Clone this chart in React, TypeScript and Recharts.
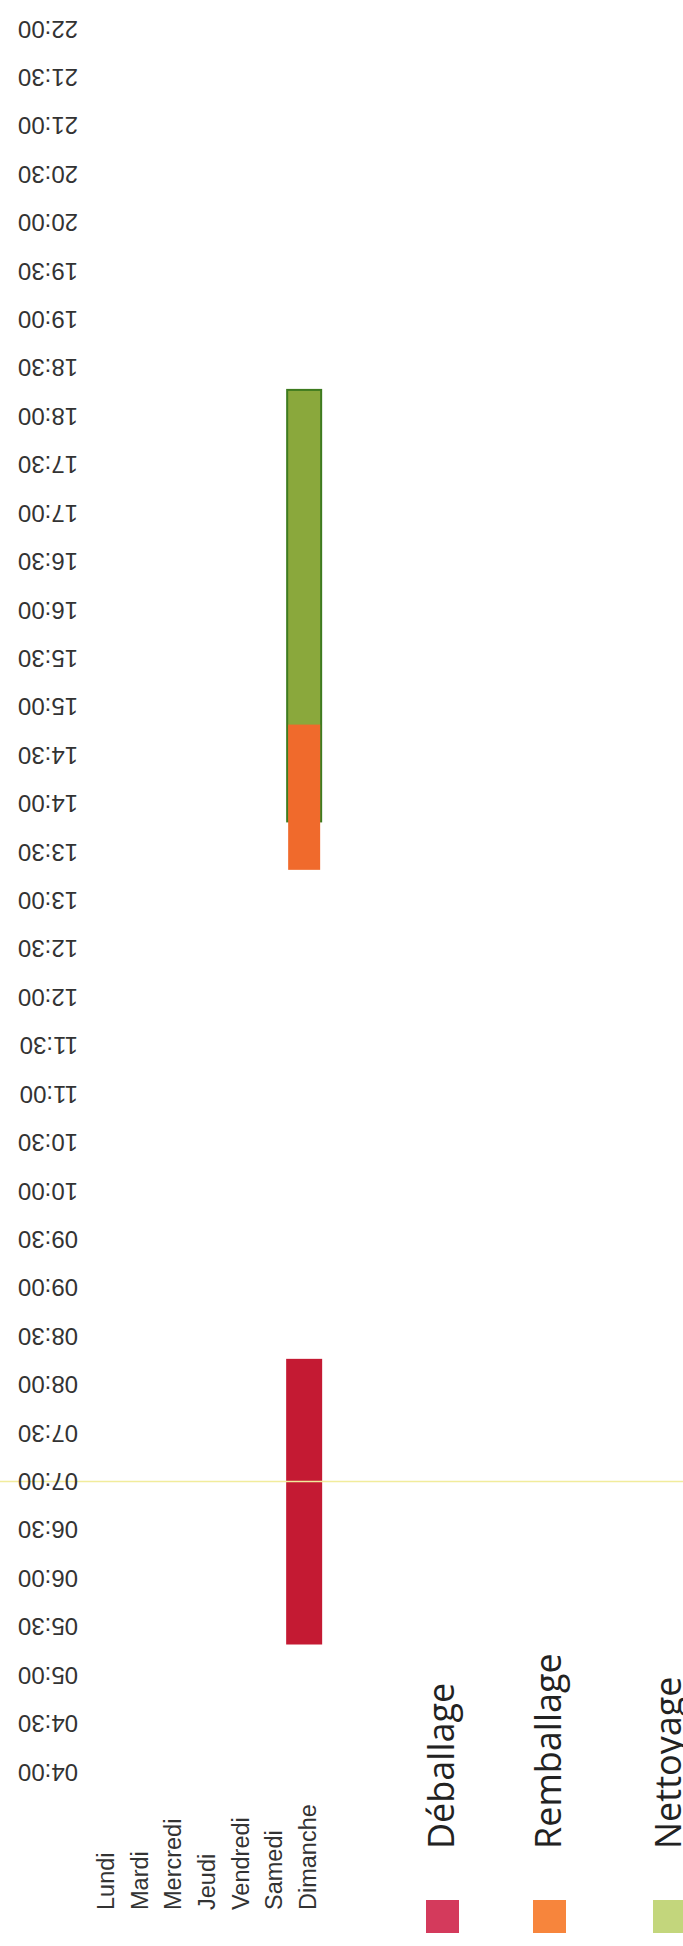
import React from "react";
import { BarChart, Bar, XAxis, YAxis, ReferenceLine, Legend } from "recharts";

const days = ["Lundi", "Mardi", "Mercredi", "Jeudi", "Vendredi", "Samedi", "Dimanche"];

const timeTicks = [
  "04:00", "04:30", "05:00", "05:30", "06:00", "06:30", "07:00", "07:30",
  "08:00", "08:30", "09:00", "09:30", "10:00", "10:30", "11:00", "11:30",
  "12:00", "12:30", "13:00", "13:30", "14:00", "14:30", "15:00", "15:30",
  "16:00", "16:30", "17:00", "17:30", "18:00", "18:30", "19:00", "19:30",
  "20:00", "20:30", "21:00", "21:30", "22:00",
];

// [start, end] per day, null when nothing planned
const deballage = [null, null, null, null, null, null, ["05:19", "08:16"]];
const remballage = [null, null, null, null, null, null, ["13:19", "14:49"]];
const nettoyage = [null, null, null, null, null, null, ["13:49", "18:17"]];

const seriesNames = ["Déballage", "Remballage", "Nettoyage"];
const barColors = ["#c41a33", "#f06a2c", "#8aa83c"];
const legendColors = ["#d43a5c", "#f7853c", "#c3d67c"];
const markerTime = "07:00";

const toHours = (t: string) => {
  const [h, m] = t.split(":").map(Number);
  return h + m / 60;
};
const fmt = (v: number) => {
  const h = Math.floor(v + 1e-6);
  const m = Math.round((v - h) * 60);
  return `${String(h).padStart(2, "0")}:${String(m).padStart(2, "0")}`;
};
const range = (r: string[] | null) => (r ? [toHours(r[0]), toHours(r[1])] : null);

const data = days.map((day, i) => ({
  day,
  deballage: range(deballage[i] as string[] | null),
  remballage: range(remballage[i] as string[] | null),
  nettoyage: range(nettoyage[i] as string[] | null),
}));

const BAR_W = 36;

const wideBar = (fill: string, stroke?: string, inset = 0) => (p: any) => {
  if (!p.height || isNaN(p.y)) return <g />;
  const cx = p.x + p.width / 2;
  const sw = stroke ? 2 : 0;
  return (
    <rect
      x={cx - BAR_W / 2 + inset + sw / 2}
      y={p.y + sw / 2}
      width={BAR_W - 2 * inset - sw}
      height={Math.abs(p.height) - sw / 2}
      fill={fill}
      stroke={stroke || "none"}
      strokeWidth={sw}
    />
  );
};

const TimeTick = ({ x, y, payload }: any) => (
  <text
    x={x}
    y={y}
    transform={`rotate(180 ${x} ${y})`}
    textAnchor="start"
    dominantBaseline="central"
    fontFamily="'Liberation Sans', Arial, sans-serif"
    fontSize={24}
    fill="#333"
  >
    {fmt(payload.value)}
  </text>
);

const DayTick = ({ x, y, payload }: any) => {
  const bx = x + 4;
  const by = y + 138;
  return (
    <text
      x={bx}
      y={by}
      transform={`rotate(-90 ${bx} ${by})`}
      textAnchor="start"
      dominantBaseline="central"
      fontFamily="'Liberation Sans', Arial, sans-serif"
      fontSize={23.5}
      fill="#333"
    >
      {payload.value}
    </text>
  );
};

const legendLeft = [46, 153, 273];

const renderLegend = (props: any) => {
  const items = (props.payload || []).map((e: any) => e.value);
  return (
    <svg width={303} height={326} style={{ overflow: "visible" }}>
      {seriesNames.map((name, i) => {
        if (!items.includes(name)) return null;
        const lx = legendLeft[i];
        const tx = lx + 28;
        const ty = 229;
        return (
          <g key={name}>
            <text
              x={tx}
              y={ty}
              transform={`rotate(-90 ${tx} ${ty})`}
              textAnchor="start"
              fontFamily="'Open Sans', sans-serif"
              fontSize={36}
              fill="#222"
            >
              {name}
            </text>
            <rect x={lx} y={280} width={33} height={33} fill={legendColors[i]} />
          </g>
        );
      })}
    </svg>
  );
};

export default function App() {
  return (
    <div style={{ position: "absolute", left: 0, top: 0, width: 683, height: 1946, background: "#fff" }}>
      <BarChart
        width={683}
        height={1946}
        data={data}
        margin={{ top: 29, right: 362, bottom: 0, left: 0 }}
      >
        <XAxis
          dataKey="day"
          type="category"
          height={174}
          axisLine={false}
          tickLine={false}
          tickSize={0}
          tickMargin={0}
          interval={0}
          tick={<DayTick />}
        />
        <XAxis xAxisId="r" dataKey="day" hide />
        <XAxis xAxisId="n" dataKey="day" hide />
        <YAxis
          type="number"
          domain={[toHours(timeTicks[0]), toHours(timeTicks[timeTicks.length - 1])]}
          ticks={timeTicks.map(toHours)}
          interval={0}
          width={85}
          axisLine={false}
          tickLine={false}
          tickSize={0}
          tickMargin={7}
          tick={<TimeTick />}
        />
        <ReferenceLine
          y={toHours(markerTime)}
          shape={(p: any) => (
            <line x1={0} x2={683} y1={p.y1} y2={p.y1} stroke="#f1ec9c" strokeWidth={1.5} />
          )}
        />
        <Legend
          layout="vertical"
          align="center"
          verticalAlign="middle"
          wrapperStyle={{ left: 380, top: 1620, width: 303, height: 326 }}
          content={renderLegend}
        />
        <Bar
          dataKey="deballage"
          name={seriesNames[0]}
          fill={barColors[0]}
          isAnimationActive={false}
          shape={wideBar(barColors[0])}
        />
        <Bar
          xAxisId="n"
          dataKey="nettoyage"
          name={seriesNames[2]}
          fill={barColors[2]}
          isAnimationActive={false}
          shape={wideBar(barColors[2], "#3e7b1f")}
        />
        <Bar
          xAxisId="r"
          dataKey="remballage"
          name={seriesNames[1]}
          fill={barColors[1]}
          isAnimationActive={false}
          shape={wideBar(barColors[1], undefined, 2)}
        />
      </BarChart>
    </div>
  );
}
